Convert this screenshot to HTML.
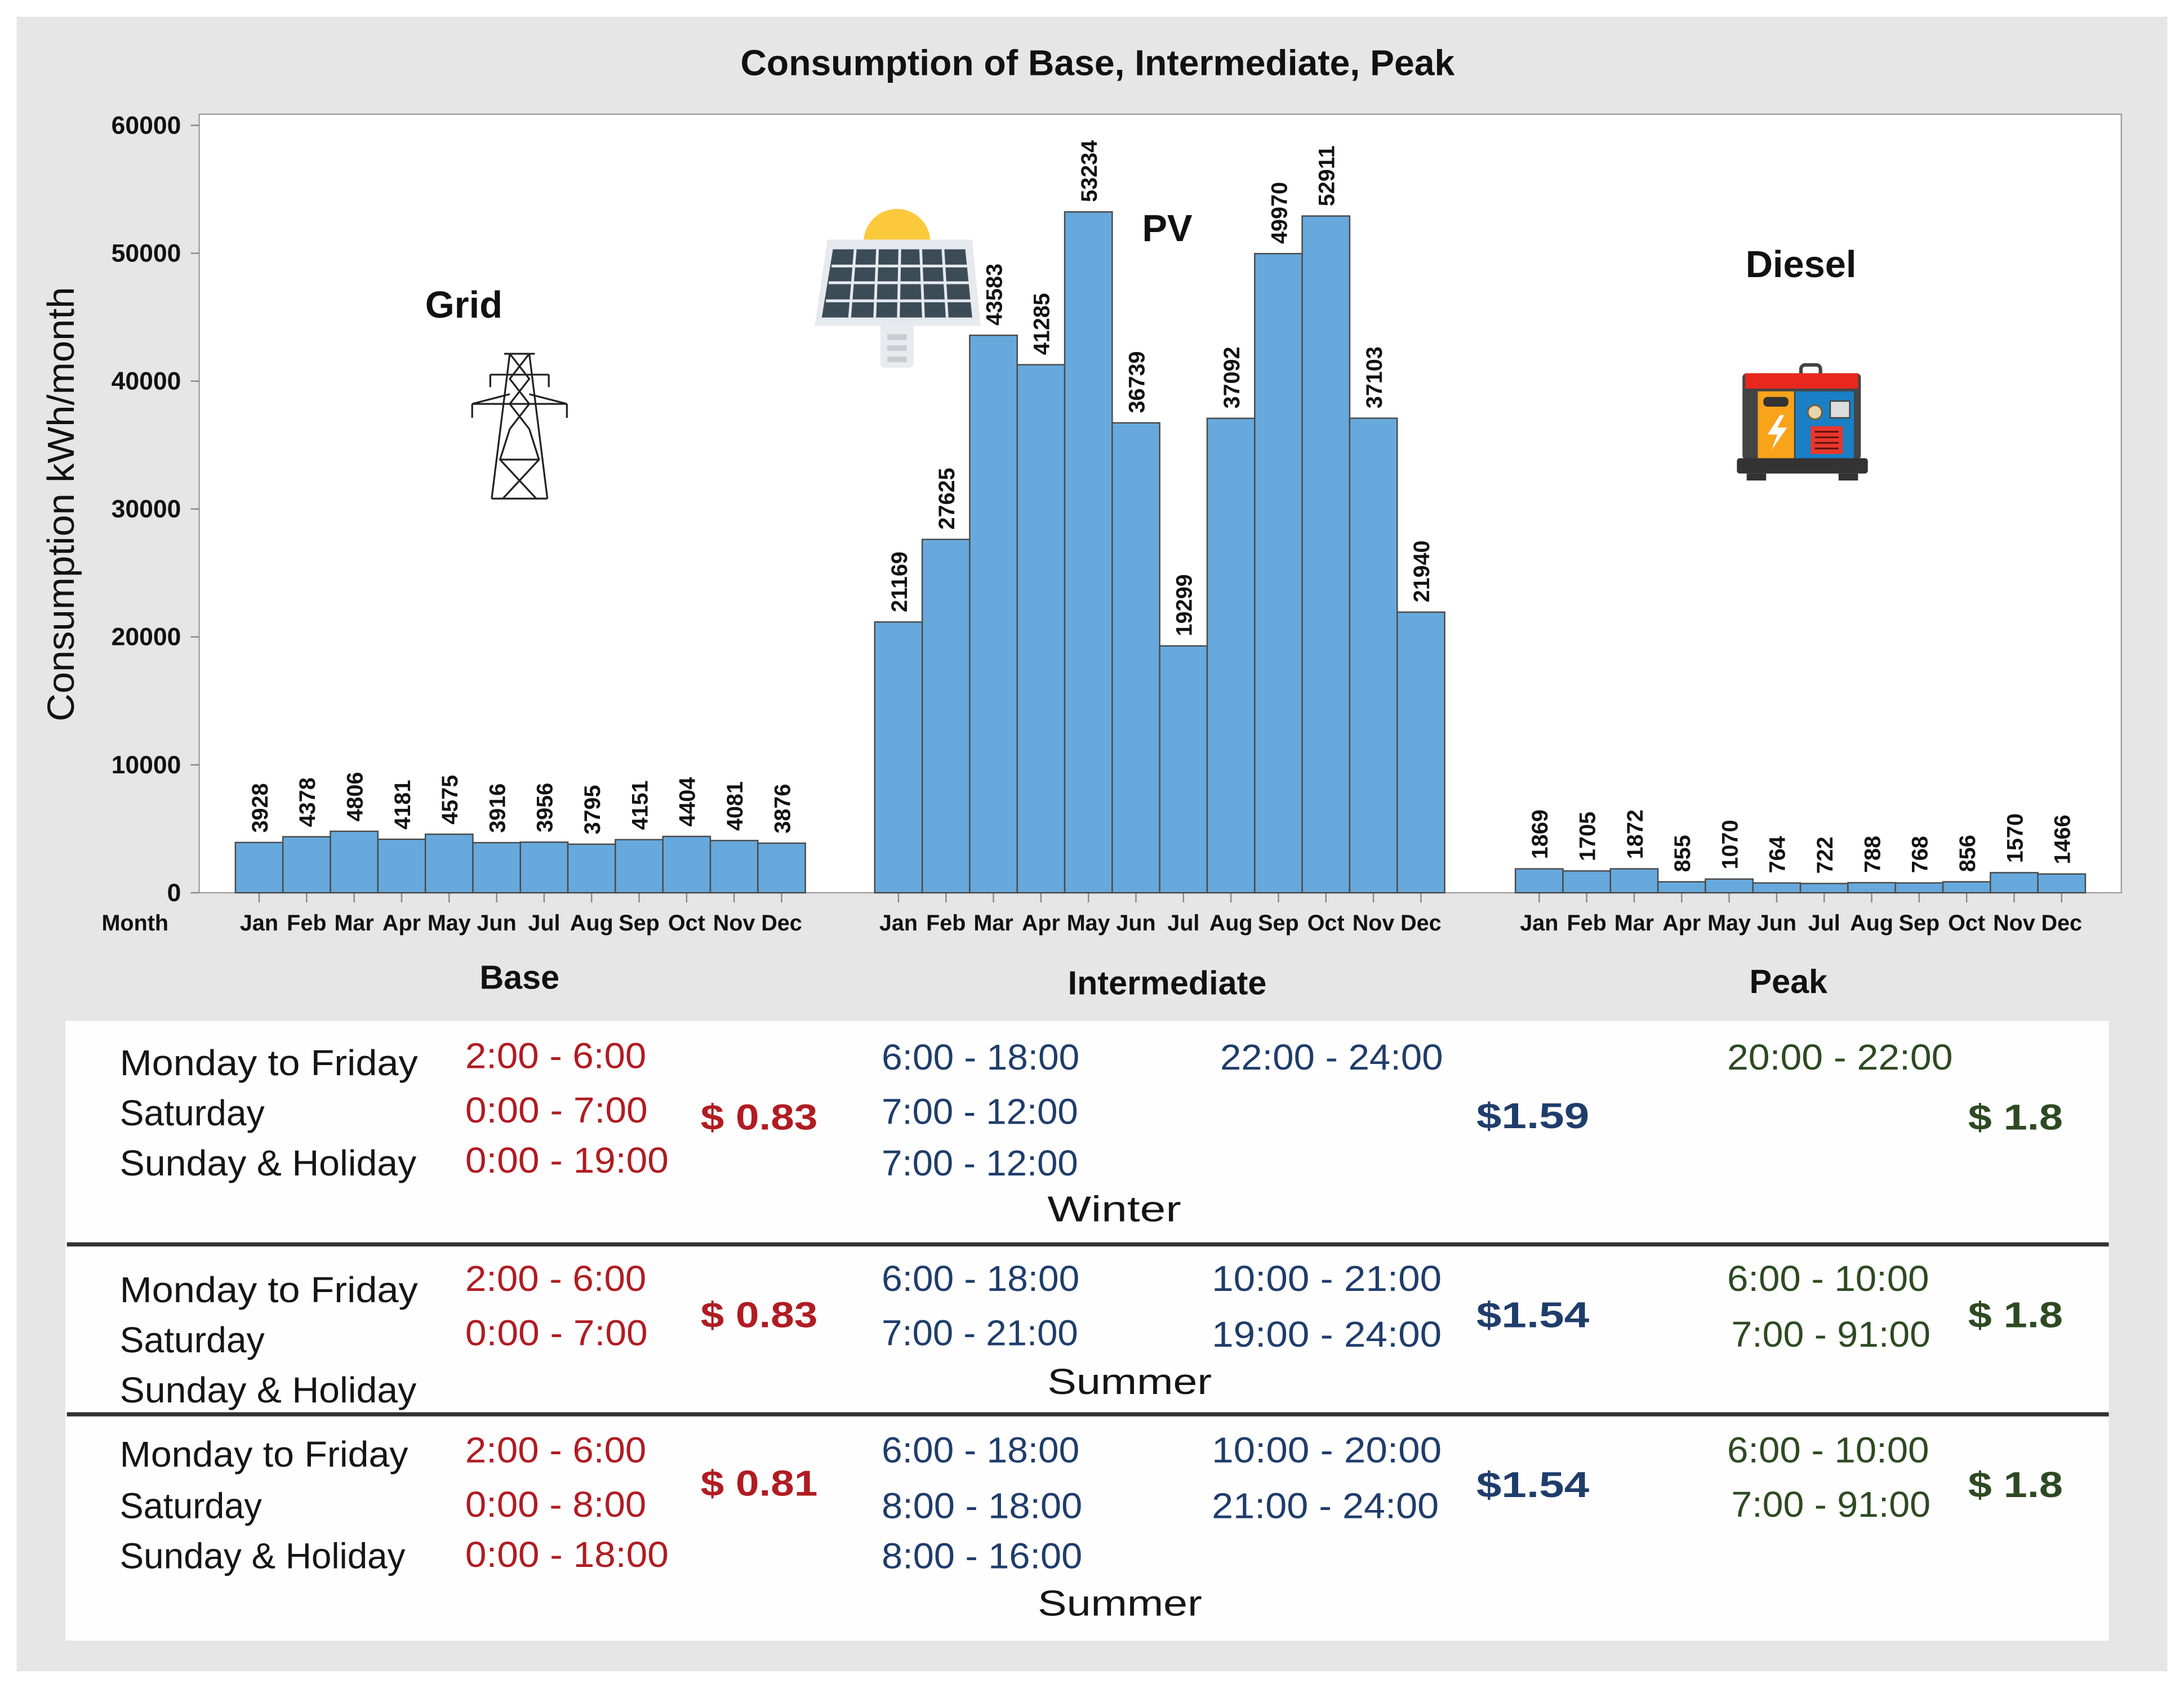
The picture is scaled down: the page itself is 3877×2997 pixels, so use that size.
<!DOCTYPE html>
<html><head><meta charset="utf-8"><style>
html,body{margin:0;padding:0;background:#fff}
svg{display:block}
text{font-family:"Liberation Sans",sans-serif}
.t{font-family:"Liberation Sans Narrow","Liberation Sans",sans-serif;font-size:26px}
</style></head><body>
<svg id="root" width="3877" height="2997" viewBox="0 0 1568 1212" preserveAspectRatio="none" xmlns="http://www.w3.org/2000/svg">
<rect x="12" y="12" width="1544" height="1188" fill="#e6e6e6"/>
<text x="788" y="54" text-anchor="middle" font-size="26" font-weight="bold" fill="#111">Consumption of Base, Intermediate, Peak</text>
<rect x="143" y="82" width="1380" height="559" fill="#fff" stroke="#a0a0a0" stroke-width="1"/>
<g id="axes"></g>
<g id="bars"></g>
<text transform="translate(53,362) rotate(-90)" text-anchor="middle" font-size="27" fill="#111" textLength="312" lengthAdjust="spacingAndGlyphs">Consumption kWh/month</text>
<text x="73" y="668" font-size="16" font-weight="bold" fill="#111">Month</text>
<text x="373" y="710" text-anchor="middle" font-size="24" font-weight="bold" fill="#111">Base</text>
<text x="838" y="714" text-anchor="middle" font-size="24" font-weight="bold" fill="#111">Intermediate</text>
<text x="1284" y="713" text-anchor="middle" font-size="24" font-weight="bold" fill="#111">Peak</text>
<text x="333" y="228" text-anchor="middle" font-size="27" font-weight="bold" fill="#111">Grid</text>
<text x="838" y="173" text-anchor="middle" font-size="27" font-weight="bold" fill="#111">PV</text>
<text x="1293" y="199" text-anchor="middle" font-size="27" font-weight="bold" fill="#111">Diesel</text>
<g fill="none" stroke="#222" stroke-width="1.3">
<path d="M362 254 H384 M366 254 L353 358 M380 254 L393 358 M353 358 H393 M366 254 L380 272 L366 290 L380 308 M380 254 L366 272 L380 290 L366 308 M366 308 L359 330 L385 358 M380 308 L387 330 L361 358 M359 330 L387 330"/>
<path d="M352 269 H394 M352 269 V278 M394 269 V278 M339 290 H407 M339 290 V300 M407 290 V300 M339 290 L366 283 M407 290 L380 283"/>
</g>
<g>
<circle cx="644" cy="174" r="24" fill="#fdc93c"/>
<rect x="632" y="232" width="24" height="32" rx="3" fill="#e8eaee"/>
<rect x="637" y="240" width="14" height="4" fill="#c8ccd2"/><rect x="637" y="248" width="14" height="4" fill="#c8ccd2"/><rect x="637" y="256" width="14" height="4" fill="#c8ccd2"/>
<path d="M594 172 H698 L704 234 H585 Z" fill="#e6e9ee"/>
<path d="M598 179 H693 L698 228 H590 Z" fill="#3c4c57"/>
<g stroke="#e6e9ee" stroke-width="2"><path d="M597 191 H695 M595 203 H696 M593 216 H697 M614 179 L610 228 M630 179 L628 228 M646 179 L645 228 M661 179 L663 228 M677 179 L680 228"/></g>
</g>
<g>
<rect x="1293" y="262" width="14" height="16" rx="3" fill="none" stroke="#444" stroke-width="2.5"/>
<rect x="1251" y="268" width="85" height="62" rx="3" fill="#444"/>
<rect x="1253" y="268" width="81" height="11" fill="#e8281e"/>
<rect x="1262" y="281" width="26" height="48" fill="#f9a31a"/>
<rect x="1289" y="281" width="42" height="48" fill="#1a7fc4"/>
<rect x="1266" y="285" width="18" height="7" rx="3" fill="#333"/>
<path d="M1278 298 L1269 312 H1276 L1272 323 L1283 307 H1276 L1281 298 Z" fill="#fff"/>
<circle cx="1303" cy="296" r="5" fill="#e6d6b0" stroke="#8a5a10"/>
<rect x="1314" y="288" width="14" height="12" fill="#ddd" stroke="#444"/>
<rect x="1300" y="306" width="23" height="20" fill="#e8372c"/>
<g stroke="#5a1010" stroke-width="1.2"><path d="M1303 310 H1320 M1303 314 H1320 M1303 318 H1320 M1303 322 H1320"/></g>
<rect x="1247" y="329" width="94" height="11" rx="2" fill="#333"/>
<rect x="1254" y="340" width="14" height="5" fill="#333"/><rect x="1320" y="340" width="14" height="5" fill="#333"/>
</g>
<rect x="47" y="733" width="1467" height="445" fill="#fefefe"/>
<rect x="48" y="892" width="1466" height="3" fill="#333"/>
<rect x="48" y="1014" width="1466" height="3" fill="#333"/>
<g id="table"></g>
</svg>
<script>
const months = ["Jan","Feb","Mar","Apr","May","Jun","Jul","Aug","Sep","Oct","Nov","Dec"];
const baseValues = [3928,4378,4806,4181,4575,3916,3956,3795,4151,4404,4081,3876];
const intermediateValues = [21169,27625,43583,41285,53234,36739,19299,37092,49970,52911,37103,21940];
const peakValues = [1869,1705,1872,855,1070,764,722,788,768,856,1570,1466];
const yTicks = [0,10000,20000,30000,40000,50000,60000];
const groupNames = ["base","intermediate","peak"];

const NS = "http://www.w3.org/2000/svg";
const Y0 = 641, Y1 = 90, YMAX = 60000;
const starts = [169, 628, 1088], BW = 34.1;
function yScale(v){ return Y0 - v / YMAX * (Y0 - Y1); }
function xScale(g, i){ return starts[g] + i * BW; }
function mk(tag, attrs, parent, txt){
  const e = document.createElementNS(NS, tag);
  for (const k in attrs) e.setAttribute(k, attrs[k]);
  if (txt !== undefined) e.textContent = txt;
  parent.appendChild(e); return e;
}
const axes = document.getElementById('axes');
const bars = document.getElementById('bars');
yTicks.forEach(v => {
  const y = yScale(v);
  const l = mk('line', {x1:137, x2:143, y1:y, y2:y, stroke:'#888'}, axes);
  
  
  const t = mk('text', {x:130, y:y+6, 'text-anchor':'end', 'font-size':18, 'font-weight':'bold', fill:'#111'}, axes, String(v));
  
  
});
[baseValues, intermediateValues, peakValues].forEach((vals, g) => {
  vals.forEach((v, i) => {
    const x = xScale(g, i), y = yScale(v), cx = x + BW / 2;
    const r = mk('rect', {x:x, y:y, width:BW, height:Y0 - y, fill:'#67a9dc', stroke:'#4a4a4a', 'stroke-width':1}, bars);
    
    
    const vl = mk('text', {transform:'translate(' + (cx + 6) + ',' + (y - 7) + ') rotate(-90)', 'font-size':16, 'font-weight':'bold', fill:'#111'}, bars, String(v));
    
    
    const tk = mk('line', {x1:cx, x2:cx, y1:641, y2:648, stroke:'#888'}, axes);
    
    
    const ml = mk('text', {x:cx, y:668, 'text-anchor':'middle', 'font-size':16, 'font-weight':'bold', fill:'#111'}, axes, months[i]);
    
    
  });
});
const K='#151515', R='#b01c22', B='#1f3d6b', G='#2d4a22';
const cells = [
 ["Monday to Friday",86,772,214,K],["Saturday",86,808,104,K],["Sunday & Holiday",86,844,213,K],
 ["2:00 - 6:00",334,767,130,R],["0:00 - 7:00",334,806,131,R],["0:00 - 19:00",334,842,146,R],
 ["$ 0.83",503,811,84,R],["6:00 - 18:00",633,768,142,B],["7:00 - 12:00",633,807,141,B],["7:00 - 12:00",633,844,141,B],
 ["22:00 - 24:00",876,768,160,B],["$1.59",1060,810,81,B],["20:00 - 22:00",1240,768,162,G],["$ 1.8",1413,811,68,G],
 ["Winter",752,877,96,K],
 ["Monday to Friday",86,935,214,K],["Saturday",86,971,104,K],["Sunday & Holiday",86,1007,213,K],
 ["2:00 - 6:00",334,927,130,R],["0:00 - 7:00",334,966,131,R],["$ 0.83",503,953,84,R],
 ["6:00 - 18:00",633,927,142,B],["7:00 - 21:00",633,966,141,B],["10:00 - 21:00",870,927,165,B],["19:00 - 24:00",870,967,165,B],
 ["$1.54",1060,953,81,B],["6:00 - 10:00",1240,927,145,G],["7:00 - 91:00",1243,967,143,G],["$ 1.8",1413,953,68,G],
 ["Summer",752,1001,118,K],
 ["Monday to Friday",86,1053,207,K],["Saturday",86,1090,102,K],["Sunday & Holiday",86,1126,205,K],
 ["2:00 - 6:00",334,1050,130,R],["0:00 - 8:00",334,1089,130,R],["0:00 - 18:00",334,1125,146,R],["$ 0.81",503,1074,84,R],
 ["6:00 - 18:00",633,1050,142,B],["8:00 - 18:00",633,1090,144,B],["8:00 - 16:00",633,1126,144,B],
 ["10:00 - 20:00",870,1050,165,B],["21:00 - 24:00",870,1090,163,B],["$1.54",1060,1075,81,B],
 ["6:00 - 10:00",1240,1050,145,G],["7:00 - 91:00",1243,1089,143,G],["$ 1.8",1413,1075,68,G],
 ["Summer",745,1160,118,K]
];
const tbl = document.getElementById('table');
cells.forEach(c => {
  const big = c[0].indexOf('$') === 0;
  const t = mk('text', {x:c[1], y:c[2], textLength:c[3], lengthAdjust:'spacingAndGlyphs', class:'t', fill:c[4], 'font-size': big ? 30 : 27, 'font-weight': big ? 'bold' : 'normal'}, tbl, c[0]);
  
  
});
</script>
</body></html>
